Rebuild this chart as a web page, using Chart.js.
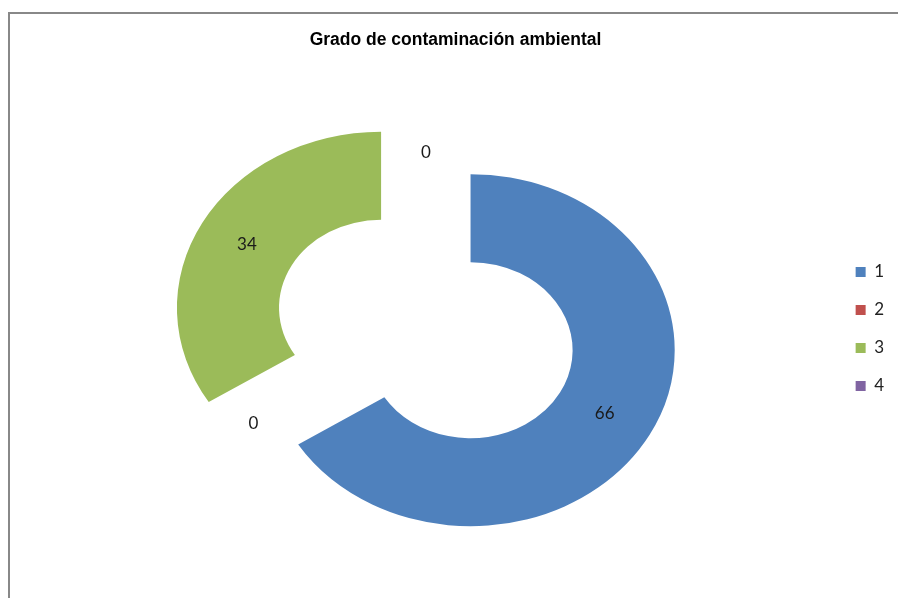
<!DOCTYPE html>
<html>
<head>
<meta charset="utf-8">
<script src="https://cdn.jsdelivr.net/npm/chart.js@4.4.0/dist/chart.umd.min.js"></script>
<style>
    html, body { margin: 0; padding: 0; background: #fff; overflow: hidden; }
    #frame {
        position: absolute; left: 8px; top: 12px;
        width: 1000px; height: 1000px;
        border: 2px solid #888; box-sizing: border-box;
    }
    #chart { position: absolute; left: 0; top: 0; }
</style>
</head>
<body>
<div id="frame"></div>
<canvas id="chart" width="898" height="598"></canvas>
<script>
// data
const chartTitle = 'Grado de contaminación ambiental';
const categories = ['1', '2', '3', '4'];
const values = [66, 0, 34, 0];
const sliceColors = ['#4F81BD', '#C0504D', '#9BBB59', '#8064A2'];

// look of the exploded, slightly stretched ring
const EXPLODE = 44;
const STRETCH_X = 1.16;
const labelFont = { family: 'Lato', size: 17 };

// arc that is pushed out along its middle angle and stretched sideways
class ExplodedArc extends Chart.ArcElement {
    draw(ctx) {
        const mid = (this.startAngle + this.endAngle) / 2;
        ctx.save();
        ctx.translate(this.x, this.y);
        ctx.scale(STRETCH_X, 1);
        ctx.translate(Math.cos(mid) * EXPLODE, Math.sin(mid) * EXPLODE);
        ctx.translate(-this.x, -this.y);
        super.draw(ctx);
        ctx.restore();
    }
}
ExplodedArc.id = 'explodedArc';

class ExplodedDoughnut extends Chart.DoughnutController {}
ExplodedDoughnut.id = 'explodedDoughnut';
ExplodedDoughnut.defaults = { dataElementType: 'explodedArc' };

Chart.register(ExplodedArc, ExplodedDoughnut);

// value labels in the middle of each (exploded) slice
const sliceLabels = {
    id: 'sliceLabels',
    afterDatasetsDraw(chart) {
        const ctx = chart.ctx;
        const meta = chart.getDatasetMeta(0);
        ctx.save();
        ctx.font = labelFont.size + 'px ' + labelFont.family;
        ctx.fillStyle = '#1a1a1a';
        ctx.textAlign = 'center';
        ctx.textBaseline = 'middle';
        meta.data.forEach((arc, i) => {
            const mid = (arc.startAngle + arc.endAngle) / 2;
            const r = (arc.innerRadius + arc.outerRadius) / 2 + EXPLODE;
            const x = arc.x + Math.cos(mid) * r * STRETCH_X;
            const y = arc.y + Math.sin(mid) * r;
            ctx.fillText(String(values[i]), x, y);
        });
        ctx.restore();
    }
};

new Chart(document.getElementById('chart'), {
    type: 'explodedDoughnut',
    data: {
        labels: categories,
        datasets: [{
            data: values,
            backgroundColor: sliceColors,
            borderWidth: 0,
            radius: 176,
            cutout: '50%'
        }]
    },
    options: {
        responsive: false,
        animation: false,
        events: [],
        layout: {
            padding: { left: 17, right: 4, top: 0, bottom: 40 }
        },
        plugins: {
            title: {
                display: true,
                text: chartTitle,
                color: '#000',
                font: { family: 'Liberation Sans', size: 17.5, weight: 'bold' },
                padding: { top: 29.5, bottom: 49.5 }
            },
            legend: {
                position: 'right',
                fullSize: false,
                labels: {
                    boxWidth: 10,
                    boxHeight: 10,
                    padding: 21,
                    color: '#222',
                    font: labelFont
                }
            },
            tooltip: { enabled: false }
        }
    },
    plugins: [sliceLabels]
});
</script>
</body>
</html>
